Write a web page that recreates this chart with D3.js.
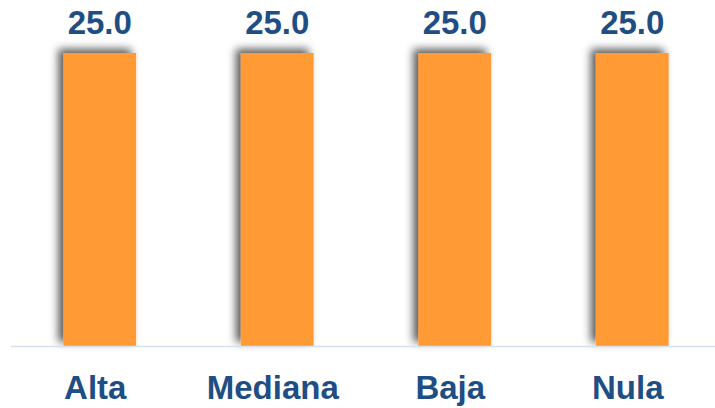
<!DOCTYPE html>
<html>
<head>
<meta charset="utf-8">
<script src="https://cdn.jsdelivr.net/npm/d3@7"></script>
<style>
  html, body { margin: 0; padding: 0; background: #fff; }
  svg { display: block; }
</style>
</head>
<body>
<div id="chart"></div>
<script>
const categories = ['Alta', 'Mediana', 'Baja', 'Nula'];
const values = [25.0, 25.0, 25.0, 25.0];

const W = 715, H = 408;
const baseY = 346;

const svg = d3.select('#chart')
  .append('svg')
  .attr('width', W)
  .attr('height', H);

const defs = svg.append('defs');
const shadow = defs.append('filter')
  .attr('id', 'barShadow')
  .attr('x', '-40%').attr('y', '-30%')
  .attr('width', '180%').attr('height', '160%');
shadow.append('feDropShadow')
  .attr('dx', -5).attr('dy', -4)
  .attr('stdDeviation', 4.5)
  .attr('flood-color', '#000')
  .attr('flood-opacity', 0.65);

const x = d3.scaleBand()
  .domain(categories)
  .range([11, 721])
  .paddingInner(0.59)
  .paddingOuter(0.295);

const y = d3.scaleLinear()
  .domain([0, 25])
  .range([baseY, 53]);

// bars
svg.append('g')
  .selectAll('rect')
  .data(values)
  .join('rect')
  .attr('x', (d, i) => x(categories[i]))
  .attr('y', d => y(d))
  .attr('width', x.bandwidth())
  .attr('height', d => baseY - y(d))
  .attr('fill', '#ff9a35')
  .attr('filter', 'url(#barShadow)');

// baseline
svg.append('line')
  .attr('x1', 11).attr('x2', W)
  .attr('y1', baseY + 0.5).attr('y2', baseY + 0.5)
  .attr('stroke', '#d5e1f0')
  .attr('stroke-width', 1.5);

// value labels
svg.append('g')
  .selectAll('text')
  .data(values)
  .join('text')
  .attr('x', (d, i) => x(categories[i]) + x.bandwidth() / 2)
  .attr('y', d => y(d) - 19)
  .attr('text-anchor', 'middle')
  .attr('font-family', '"Liberation Sans", Arial, sans-serif')
  .attr('font-weight', 'bold')
  .attr('font-size', '33px')
  .attr('fill', '#1f4e84')
  .text(d => d3.format('.1f')(d));

// category labels (sit a little left of the bar centres)
svg.append('g')
  .attr('transform', `translate(-4.5,${baseY})`)
  .call(d3.axisBottom(x).tickSize(0).tickPadding(0))
  .call(g => g.select('.domain').remove())
  .call(g => g.selectAll('text')
    .attr('dy', null)
    .attr('y', 53)
    .attr('font-family', '"Liberation Sans", Arial, sans-serif')
    .attr('font-weight', 'bold')
    .attr('font-size', '33px')
    .attr('fill', '#1f4e84'));
</script>
</body>
</html>
